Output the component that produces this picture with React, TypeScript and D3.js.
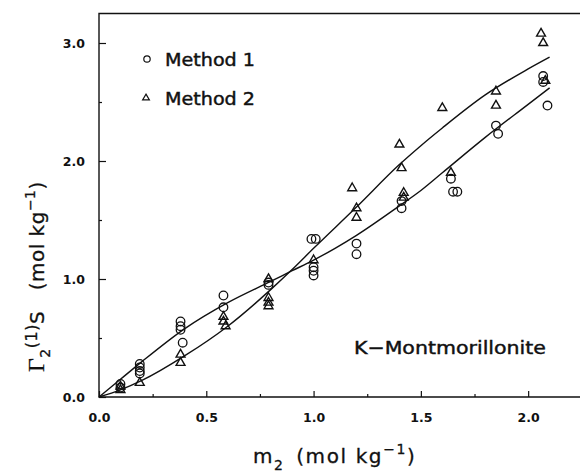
import React, { useRef, useEffect } from 'react';
import * as d3 from 'd3';

// Method 1 (circles)
const method1X = [0.1, 0.1, 0.19, 0.19, 0.19, 0.19, 0.38, 0.38, 0.38, 0.39, 0.58, 0.58, 0.79, 0.79, 0.99, 1.01, 1.0, 1.0, 1.0, 1.2, 1.2, 1.41, 1.41, 1.64, 1.65, 1.67, 1.85, 1.86, 2.07, 2.07, 2.09];
const method1Y = [0.11, 0.08, 0.28, 0.25, 0.22, 0.2, 0.64, 0.6, 0.57, 0.46, 0.86, 0.76, 0.97, 0.95, 1.34, 1.34, 1.1, 1.07, 1.03, 1.3, 1.21, 1.66, 1.6, 1.85, 1.74, 1.74, 2.3, 2.23, 2.72, 2.67, 2.47];

// Method 2 (triangles)
const method2X = [0.1, 0.1, 0.19, 0.38, 0.38, 0.58, 0.58, 0.59, 0.79, 0.79, 0.79, 0.79, 1.0, 1.18, 1.2, 1.2, 1.4, 1.41, 1.42, 1.42, 1.6, 1.64, 1.85, 1.85, 2.06, 2.07, 2.08];
const method2Y = [0.06, 0.09, 0.12, 0.36, 0.29, 0.68, 0.64, 0.6, 1.0, 0.84, 0.8, 0.77, 1.16, 1.77, 1.6, 1.52, 2.14, 1.94, 1.73, 1.69, 2.45, 1.9, 2.59, 2.47, 3.08, 3.0, 2.68];

// fitted curves
const fit1X = [0, 0.1, 0.2, 0.4, 0.6, 0.8, 0.9, 1.0, 1.1, 1.2, 1.4, 1.5, 1.6, 1.8, 2.0, 2.1];
const fit1Y = [0, 0.15, 0.3, 0.58, 0.8, 0.98, 1.07, 1.16, 1.26, 1.37, 1.62, 1.75, 1.9, 2.2, 2.48, 2.62];
const fit2X = [0, 0.1, 0.2, 0.4, 0.6, 0.8, 0.9, 1.0, 1.2, 1.4, 1.5, 1.6, 1.8, 2.0, 2.1];
const fit2Y = [0, 0.06, 0.14, 0.35, 0.6, 0.91, 1.08, 1.26, 1.61, 1.97, 2.13, 2.28, 2.56, 2.78, 2.88];

const xTicks = [0, 0.5, 1.0, 1.5, 2.0];
const xMinor = [0.25, 0.75, 1.25, 1.75, 2.25];
const yTicks = [0, 1.0, 2.0, 3.0];
const yMinor = [0.5, 1.5, 2.5];

const FONT = '"DejaVu Sans", sans-serif';

export default function App() {
  const svgRef = useRef<SVGSVGElement>(null);

  useEffect(() => {
    const svg = d3.select(svgRef.current);
    svg.selectAll('*').remove();

    const x = d3.scaleLinear().domain([0, 2.25]).range([99, 581.8]);
    const y = d3.scaleLinear().domain([0, 3.25]).range([397, 13.5]);

    // frame
    const [x0, x1] = x.range();
    const [y0, y1] = y.range();
    svg.append('path')
      .attr('d', `M${x0},${y1}H${x1}V${y0}H${x0}Z`)
      .attr('fill', 'none')
      .attr('stroke', '#111')
      .attr('stroke-width', 1.4);

    // axes (ticks pointing inward)
    const gx = svg.append('g').attr('transform', `translate(0,${y0})`)
      .call(d3.axisBottom(x).tickValues(xTicks).tickSizeInner(-6).tickSizeOuter(0).tickPadding(16).tickFormat(d3.format('.1f')));
    svg.append('g').attr('transform', `translate(0,${y0})`)
      .call(d3.axisBottom(x).tickValues(xMinor).tickSizeInner(-3).tickSizeOuter(0).tickFormat(() => ''));
    const gy = svg.append('g').attr('transform', `translate(${x0},0)`)
      .call(d3.axisLeft(y).tickValues(yTicks).tickSizeInner(-7).tickSizeOuter(0).tickPadding(14).tickFormat(d3.format('.1f')));
    svg.append('g').attr('transform', `translate(${x0},0)`)
      .call(d3.axisLeft(y).tickValues(yMinor).tickSizeInner(-3).tickSizeOuter(0).tickFormat(() => ''));

    svg.selectAll('.domain').remove();
    svg.selectAll('.tick line').attr('stroke', '#111').attr('stroke-width', 1.2);
    [gx, gy].forEach((g) =>
      g.selectAll('text')
        .attr('fill', '#111')
        .style('font-family', FONT)
        .style('font-size', '12.5px')
        .style('font-weight', 'bold'));

    // fitted lines
    const line = d3.line<number>()
      .x((d) => x(d))
      .curve(d3.curveMonotoneX);
    svg.append('path')
      .attr('d', line.y((d, i) => y(fit1Y[i]))(fit1X))
      .attr('fill', 'none').attr('stroke', '#111').attr('stroke-width', 1.4);
    svg.append('path')
      .attr('d', line.y((d, i) => y(fit2Y[i]))(fit2X))
      .attr('fill', 'none').attr('stroke', '#111').attr('stroke-width', 1.4);

    // points
    svg.append('g').selectAll('circle')
      .data(method1X)
      .join('circle')
      .attr('cx', (d) => x(d))
      .attr('cy', (d, i) => y(method1Y[i]))
      .attr('r', 4.3)
      .attr('fill', 'none')
      .attr('stroke', '#111')
      .attr('stroke-width', 1.3);

    const tri = d3.symbol(d3.symbolTriangle, 34);
    svg.append('g').selectAll('path')
      .data(method2X)
      .join('path')
      .attr('d', tri)
      .attr('transform', (d, i) => `translate(${x(d)},${y(method2Y[i])})`)
      .attr('fill', 'none')
      .attr('stroke', '#111')
      .attr('stroke-width', 1.4);

    const heavy = (t: d3.Selection<SVGTextElement, unknown, null, undefined>) =>
      t.attr('fill', '#111').attr('stroke', '#111').attr('stroke-width', 0.45)
        .style('font-family', FONT).style('font-size', '18px');

    // legend
    svg.append('circle').attr('cx', 147).attr('cy', 59).attr('r', 3.2)
      .attr('fill', 'none').attr('stroke', '#111').attr('stroke-width', 1.2);
    svg.append('path').attr('d', d3.symbol(d3.symbolTriangle, 20)())
      .attr('transform', 'translate(146,98)')
      .attr('fill', 'none').attr('stroke', '#111').attr('stroke-width', 1.2);
    const legendText = (t: string, ty: number) =>
      svg.append('text').attr('x', 165).attr('y', ty).text(t)
        .attr('textLength', 90).attr('lengthAdjust', 'spacingAndGlyphs')
        .call(heavy);
    legendText('Method 1', 66);
    legendText('Method 2', 105);

    svg.append('text').attr('x', 354).attr('y', 354).text('K\u2212Montmorillonite')
      .attr('textLength', 192).attr('lengthAdjust', 'spacingAndGlyphs')
      .call(heavy);

    // x title
    const xt = svg.append('text').attr('x', 253).attr('y', 463)
      .call(heavy).attr('stroke-width', 0.3)
      .style('font-size', '20px').style('letter-spacing', '1.6px');
    xt.append('tspan').text('m');
    xt.append('tspan').attr('dy', 7).style('font-size', '14px').text('2');
    xt.append('tspan').attr('dy', -7).text('\u2002(mol kg');
    xt.append('tspan').attr('dy', -9).style('font-size', '14px').text('\u22121');
    xt.append('tspan').attr('dy', 9).text(')');

    // y title
    const yt = svg.append('text')
      .attr('transform', 'translate(44,372) rotate(-90)')
      .call(heavy).attr('stroke-width', 0.3)
      .style('font-size', '20px').style('letter-spacing', '0.5px');
    yt.append('tspan').style('font-family', '"Liberation Serif", serif').style('font-size', '24px').text('\u0393');
    yt.append('tspan').attr('dy', 6).style('font-size', '14px').text('2');
    yt.append('tspan').attr('dy', -13).style('font-size', '16px').text('(1)');
    yt.append('tspan').attr('dy', 7).text('S');
    yt.append('tspan').text('\u2003(mol kg');
    yt.append('tspan').attr('dy', -9).style('font-size', '14px').text('\u22121');
    yt.append('tspan').attr('dy', 9).text(')');
  }, []);

  return (
    <svg
      ref={svgRef}
      width={580}
      height={473}
      style={{ position: 'absolute', left: 0, top: 0, background: '#fff' }}
    />
  );
}
